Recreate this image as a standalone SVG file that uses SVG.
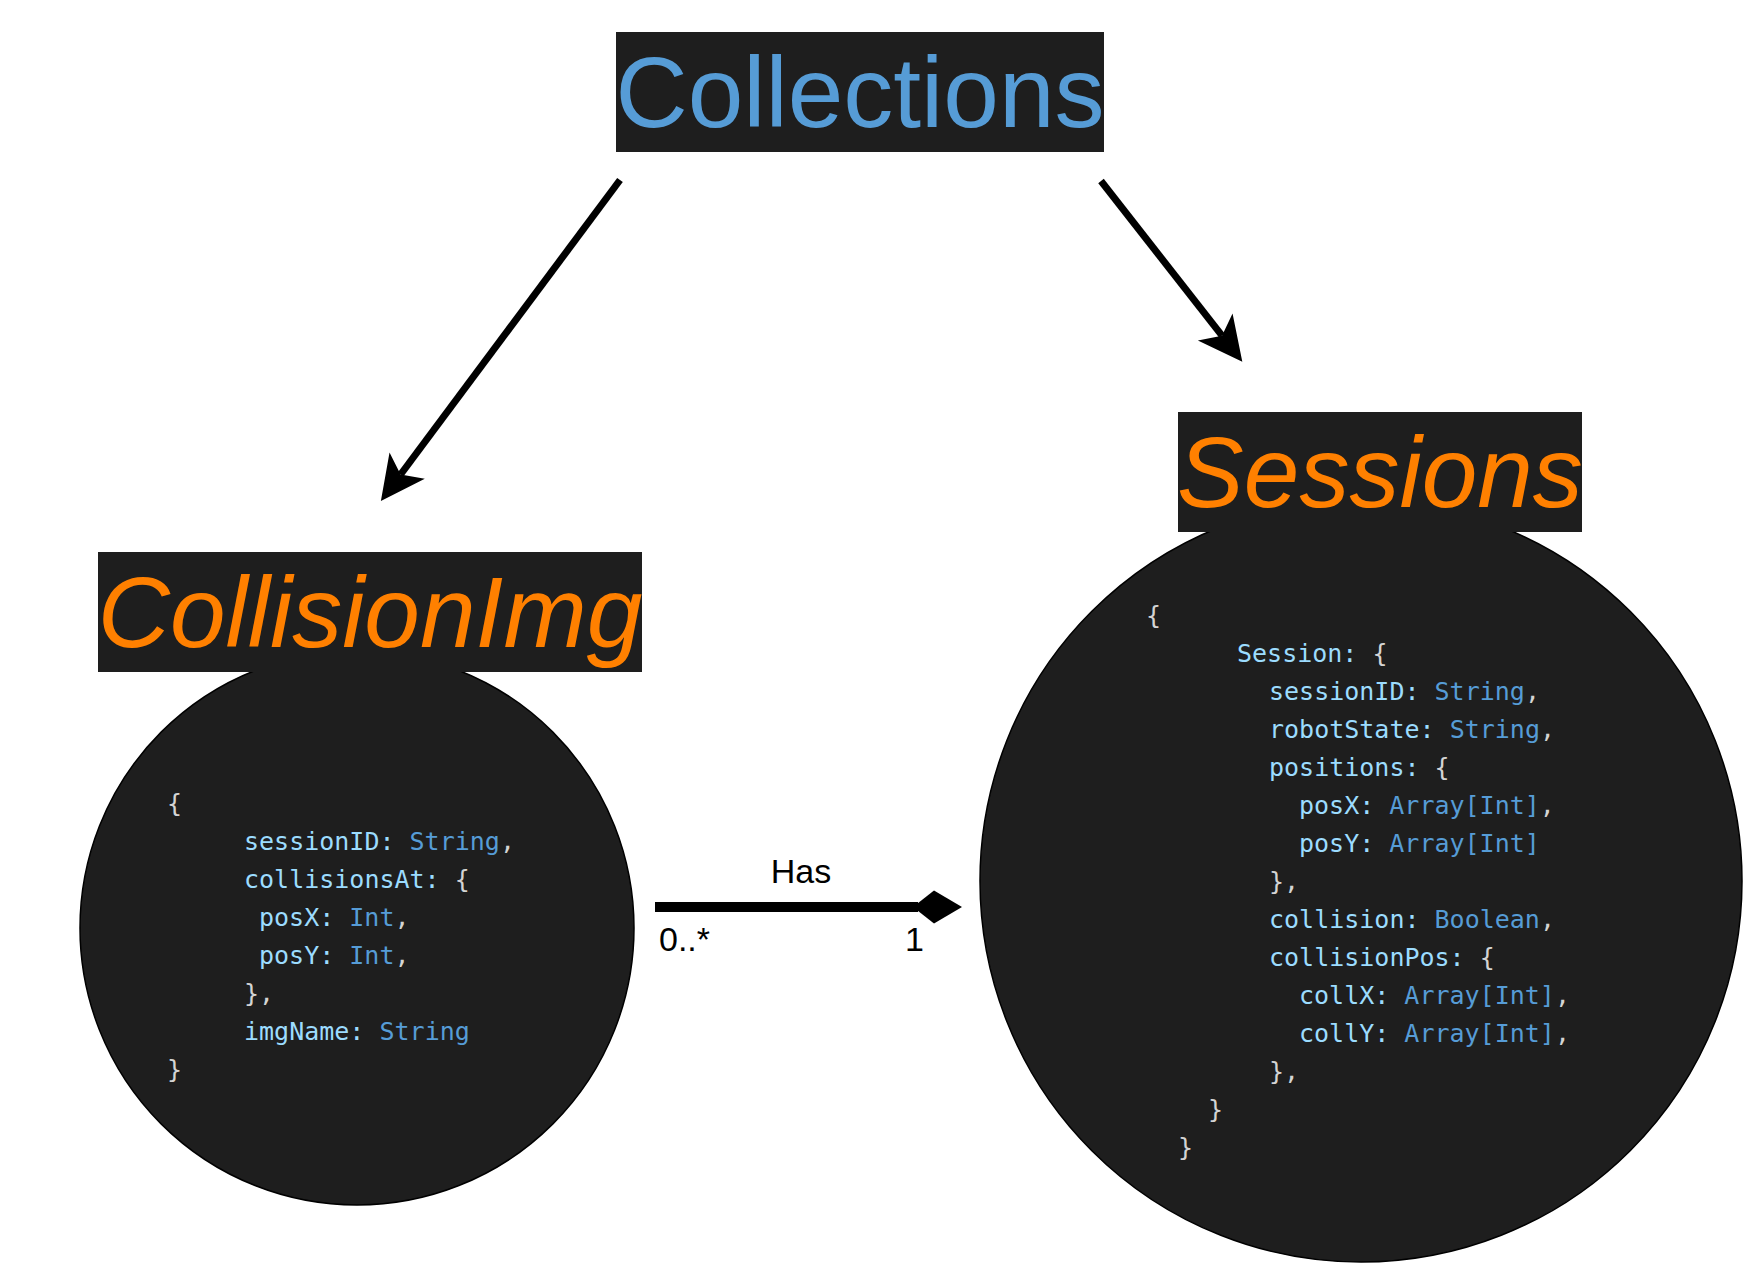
<svg xmlns="http://www.w3.org/2000/svg" width="1762" height="1282" viewBox="0 0 1762 1282">
  <style>
    .bg { fill: #1e1e1e; }
    .circ { fill: #1e1e1e; stroke: #000000; stroke-width: 1.5; }
    .head { font-family: "Liberation Sans", Arial, sans-serif; font-size: 100px; text-anchor: middle; }
    .coll { fill: #569cd6; }
    .title { fill: #ff8000; font-style: italic; }
    .code { font-family: "DejaVu Sans Mono", "Liberation Mono", monospace; font-size: 25px; fill: #d4d4d4; }
    .k { fill: #9cdcfe; }
    .t { fill: #569cd6; }
    .p { fill: #d4d4d4; }
    .arrow { fill: none; stroke: #000000; stroke-width: 7; }
    .assoc { fill: none; stroke: #000000; stroke-width: 10; }
    .lbl { font-family: "Liberation Sans", Arial, sans-serif; font-size: 34px; fill: #000000; }
  </style>
  <defs>
    <marker id="arrowhead" viewBox="-12 -23 46 46" markerWidth="46" markerHeight="46" refX="0" refY="0" orient="auto" markerUnits="userSpaceOnUse">
      <path d="M33,0 L-11,-22 L0,0 L-11,22 Z" fill="#000000"/>
    </marker>
    <marker id="diamond" viewBox="-1 -18 52 36" markerWidth="52" markerHeight="36" refX="5" refY="0" orient="auto" markerUnits="userSpaceOnUse">
      <path d="M0,0 L21,-16.5 L49,0 L21,16.5 Z" fill="#000000"/>
    </marker>
  </defs>

  <g id="connectors">
    <path class="arrow" d="M620,180 L400.6,474.5" marker-end="url(#arrowhead)"/>
    <path class="arrow" d="M1101,181 L1222,335.7" marker-end="url(#arrowhead)"/>
    <path class="assoc" d="M655,907 L918,907" marker-end="url(#diamond)"/>
    <text class="lbl" x="801" y="883" text-anchor="middle">Has</text>
    <text class="lbl" x="659" y="951">0..*</text>
    <text class="lbl" x="905" y="951">1</text>
  </g>

  <g id="collections">
    <rect class="bg" x="616" y="32" width="488" height="120"/>
    <text class="head coll" x="860" y="127">Collections</text>
  </g>

  <g id="collisionimg">
    <circle class="circ" cx="357" cy="928" r="277"/>
    <rect class="bg" x="98" y="552" width="544" height="120"/>
    <text class="head title" x="370" y="647">CollisionImg</text>
    <text class="code">
      <tspan x="167" y="812" class="p">{</tspan>
      <tspan x="244" y="850" class="k">sessionID:</tspan><tspan class="t"> String</tspan><tspan class="p">,</tspan>
      <tspan x="244" y="888" class="k">collisionsAt:</tspan><tspan class="p"> {</tspan>
      <tspan x="259" y="926" class="k">posX:</tspan><tspan class="t"> Int</tspan><tspan class="p">,</tspan>
      <tspan x="259" y="964" class="k">posY:</tspan><tspan class="t"> Int</tspan><tspan class="p">,</tspan>
      <tspan x="244" y="1002" class="p">},</tspan>
      <tspan x="244" y="1040" class="k">imgName:</tspan><tspan class="t"> String</tspan>
      <tspan x="167" y="1078" class="p">}</tspan>
    </text>
  </g>

  <g id="sessions">
    <circle class="circ" cx="1361" cy="881" r="381"/>
    <rect class="bg" x="1178" y="412" width="404" height="120"/>
    <text class="head title" x="1380" y="507">Sessions</text>
    <text class="code">
      <tspan x="1146" y="624" class="p">{</tspan>
      <tspan x="1237" y="662" class="k">Session:</tspan><tspan class="p"> {</tspan>
      <tspan x="1269" y="700" class="k">sessionID:</tspan><tspan class="t"> String</tspan><tspan class="p">,</tspan>
      <tspan x="1269" y="738" class="k">robotState:</tspan><tspan class="t"> String</tspan><tspan class="p">,</tspan>
      <tspan x="1269" y="776" class="k">positions:</tspan><tspan class="p"> {</tspan>
      <tspan x="1299" y="814" class="k">posX:</tspan><tspan class="t"> Array[Int]</tspan><tspan class="p">,</tspan>
      <tspan x="1299" y="852" class="k">posY:</tspan><tspan class="t"> Array[Int]</tspan>
      <tspan x="1269" y="890" class="p">},</tspan>
      <tspan x="1269" y="928" class="k">collision:</tspan><tspan class="t"> Boolean</tspan><tspan class="p">,</tspan>
      <tspan x="1269" y="966" class="k">collisionPos:</tspan><tspan class="p"> {</tspan>
      <tspan x="1299" y="1004" class="k">collX:</tspan><tspan class="t"> Array[Int]</tspan><tspan class="p">,</tspan>
      <tspan x="1299" y="1042" class="k">collY:</tspan><tspan class="t"> Array[Int]</tspan><tspan class="p">,</tspan>
      <tspan x="1269" y="1080" class="p">},</tspan>
      <tspan x="1208" y="1118" class="p">}</tspan>
      <tspan x="1178" y="1156" class="p">}</tspan>
    </text>
  </g>
</svg>
